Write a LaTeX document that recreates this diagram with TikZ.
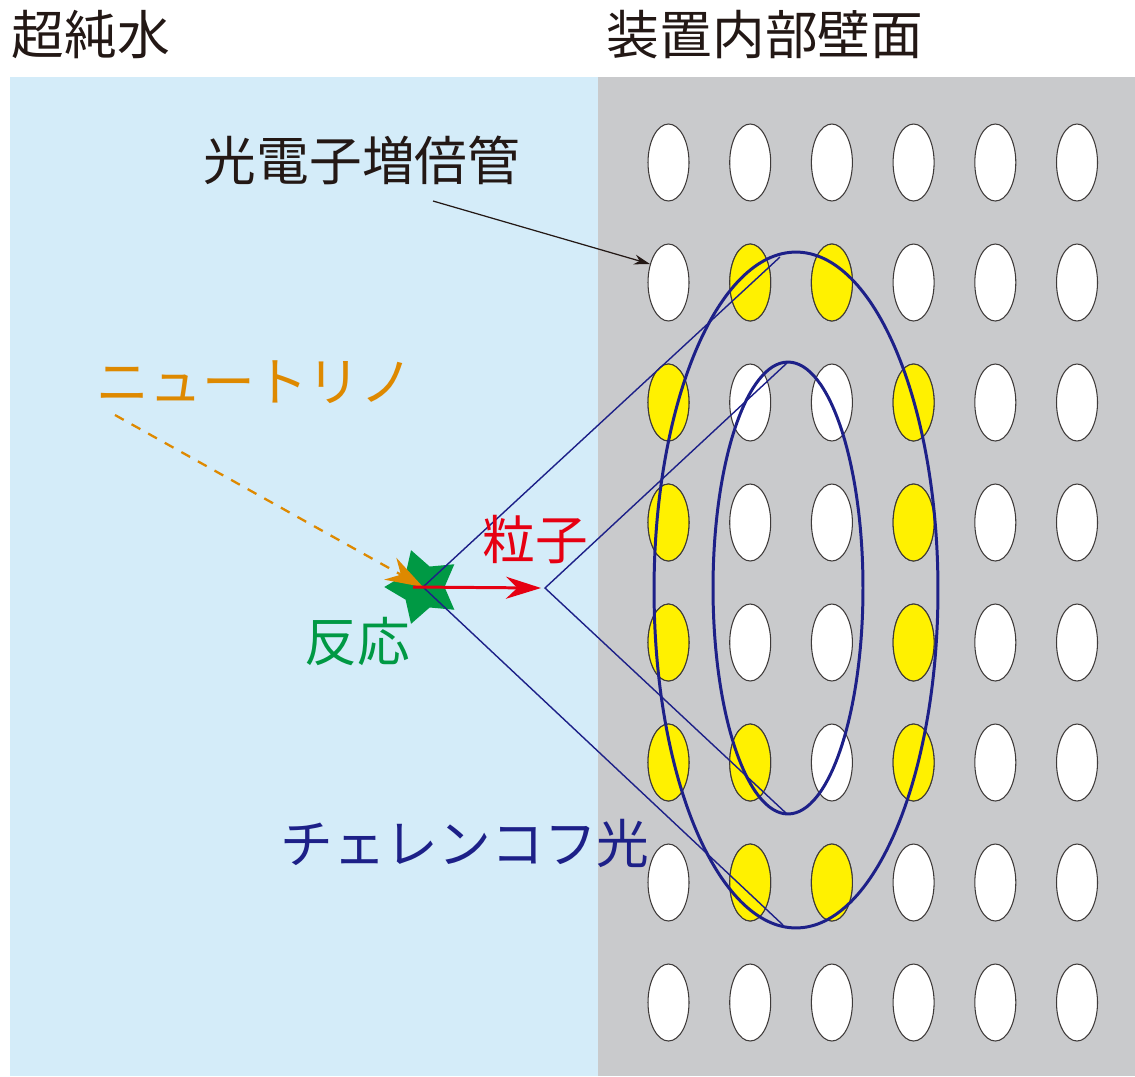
\documentclass[tikz,border=0pt]{standalone}
\usepackage{fontspec}
\setmainfont{Noto Sans CJK JP}
\usetikzlibrary{arrows.meta,shapes.geometric}
\definecolor{water}{RGB}{212,236,249}
\definecolor{wallgray}{RGB}{201,202,204}
\definecolor{hityellow}{RGB}{255,241,0}
\definecolor{pmtline}{RGB}{62,58,57}
\definecolor{ringblue}{RGB}{29,32,136}
\definecolor{nuorange}{RGB}{222,137,0}
\definecolor{partred}{RGB}{230,0,18}
\definecolor{rxngreen}{RGB}{0,153,68}
\definecolor{inkblack}{RGB}{35,24,21}

\begin{document}
\begin{tikzpicture}[
    x=0.02cm, y=-0.02cm,
    lbl/.style={font=\fontsize{30}{36}\selectfont, inner sep=0pt},
    pmt/.style={ellipse, draw=pmtline, fill=white, line width=0.6pt,
                minimum width=0.82cm, minimum height=1.54cm, inner sep=0pt},
    hit/.style={pmt, fill=hityellow},
    ring/.style={ellipse, draw=ringblue, line width=1.7pt, inner sep=0pt},
    cone/.style={draw=ringblue, line width=0.8pt},
    nuarr/.style={-{Stealth[length=7.5mm, width=5mm]}, nuorange,
                  line width=1.3pt, dash pattern=on 2mm off 1.8mm},
    parr/.style={-{Stealth[length=7mm, width=4.4mm]}, partred, line width=1.7pt},
    pointer/.style={-{Stealth[length=3.2mm, width=2mm]}, inkblack, line width=0.7pt},
]
\useasboundingbox (0,0) rectangle (1135,1076);

% ---- tank ----
\fill[water]    (10,77)  rectangle (598,1076);
\fill[wallgray] (598,77) rectangle (1135,1076);

% ---- photomultiplier wall ----
\foreach \r in {0,...,7}
  \foreach \c in {0,...,5}
    \node[pmt] (p\r\c) at ({668.5+81.7*\c},{162.5+120*\r}) {};
\foreach \r/\c in {1/1,1/2,2/0,2/3,3/0,3/3,4/0,4/3,5/0,5/1,5/3,6/1,6/2}
  \node[hit] (h\r\c) at (p\r\c) {};

% ---- Cherenkov rings ----
\node[ring, minimum width=5.68cm, minimum height=13.52cm] (outer) at (796,590) {};
\node[ring, minimum width=3.0cm,  minimum height=9.04cm]  (inner) at (788,588) {};

% ---- interaction ----
\node[star, star points=5, star point ratio=1.8, minimum size=1.55cm,
      shape border rotate=18, fill=rxngreen, inner sep=0pt] (rxn) at (423,587) {};

\coordinate (nusrc) at (115,415);
\coordinate (apex)  at (545,588);
\coordinate (ptip)  at (541,588);
\coordinate (otop)  at (780,257);
\coordinate (obot)  at (783,925);
\coordinate (itop)  at (787,363);
\coordinate (ibot)  at (787,814);
\coordinate (pfrom) at (433,201);

\draw[nuarr] (nusrc) -- (rxn.center);
\draw[cone] (otop) -- (rxn.center) -- (obot);
\draw[cone] (itop) -- (apex) -- (ibot);
\draw[parr] ([xshift=-2mm]rxn.center) -- (ptip);
\draw[pointer] (pfrom) -- (p10.135);

% ---- labels ----
\node[lbl, text=inkblack]  (water) at (91,35)   {超純水};
\node[lbl, text=inkblack]  (wall)  at (765,35)  {装置内部壁面};
\node[lbl, text=inkblack]  (pmtl)  at (362,160) {光電子増倍管};
\node[lbl, text=nuorange]  (nul)   at (255,382) {ニュートリノ};
\node[lbl, text=partred]   (pl)    at (535,540) {粒子};
\node[lbl, text=rxngreen]  (rl)    at (357,642) {反応};
\node[lbl, text=ringblue]  (cl)    at (465,843) {チェレンコフ光};
\end{tikzpicture}
\end{document}
